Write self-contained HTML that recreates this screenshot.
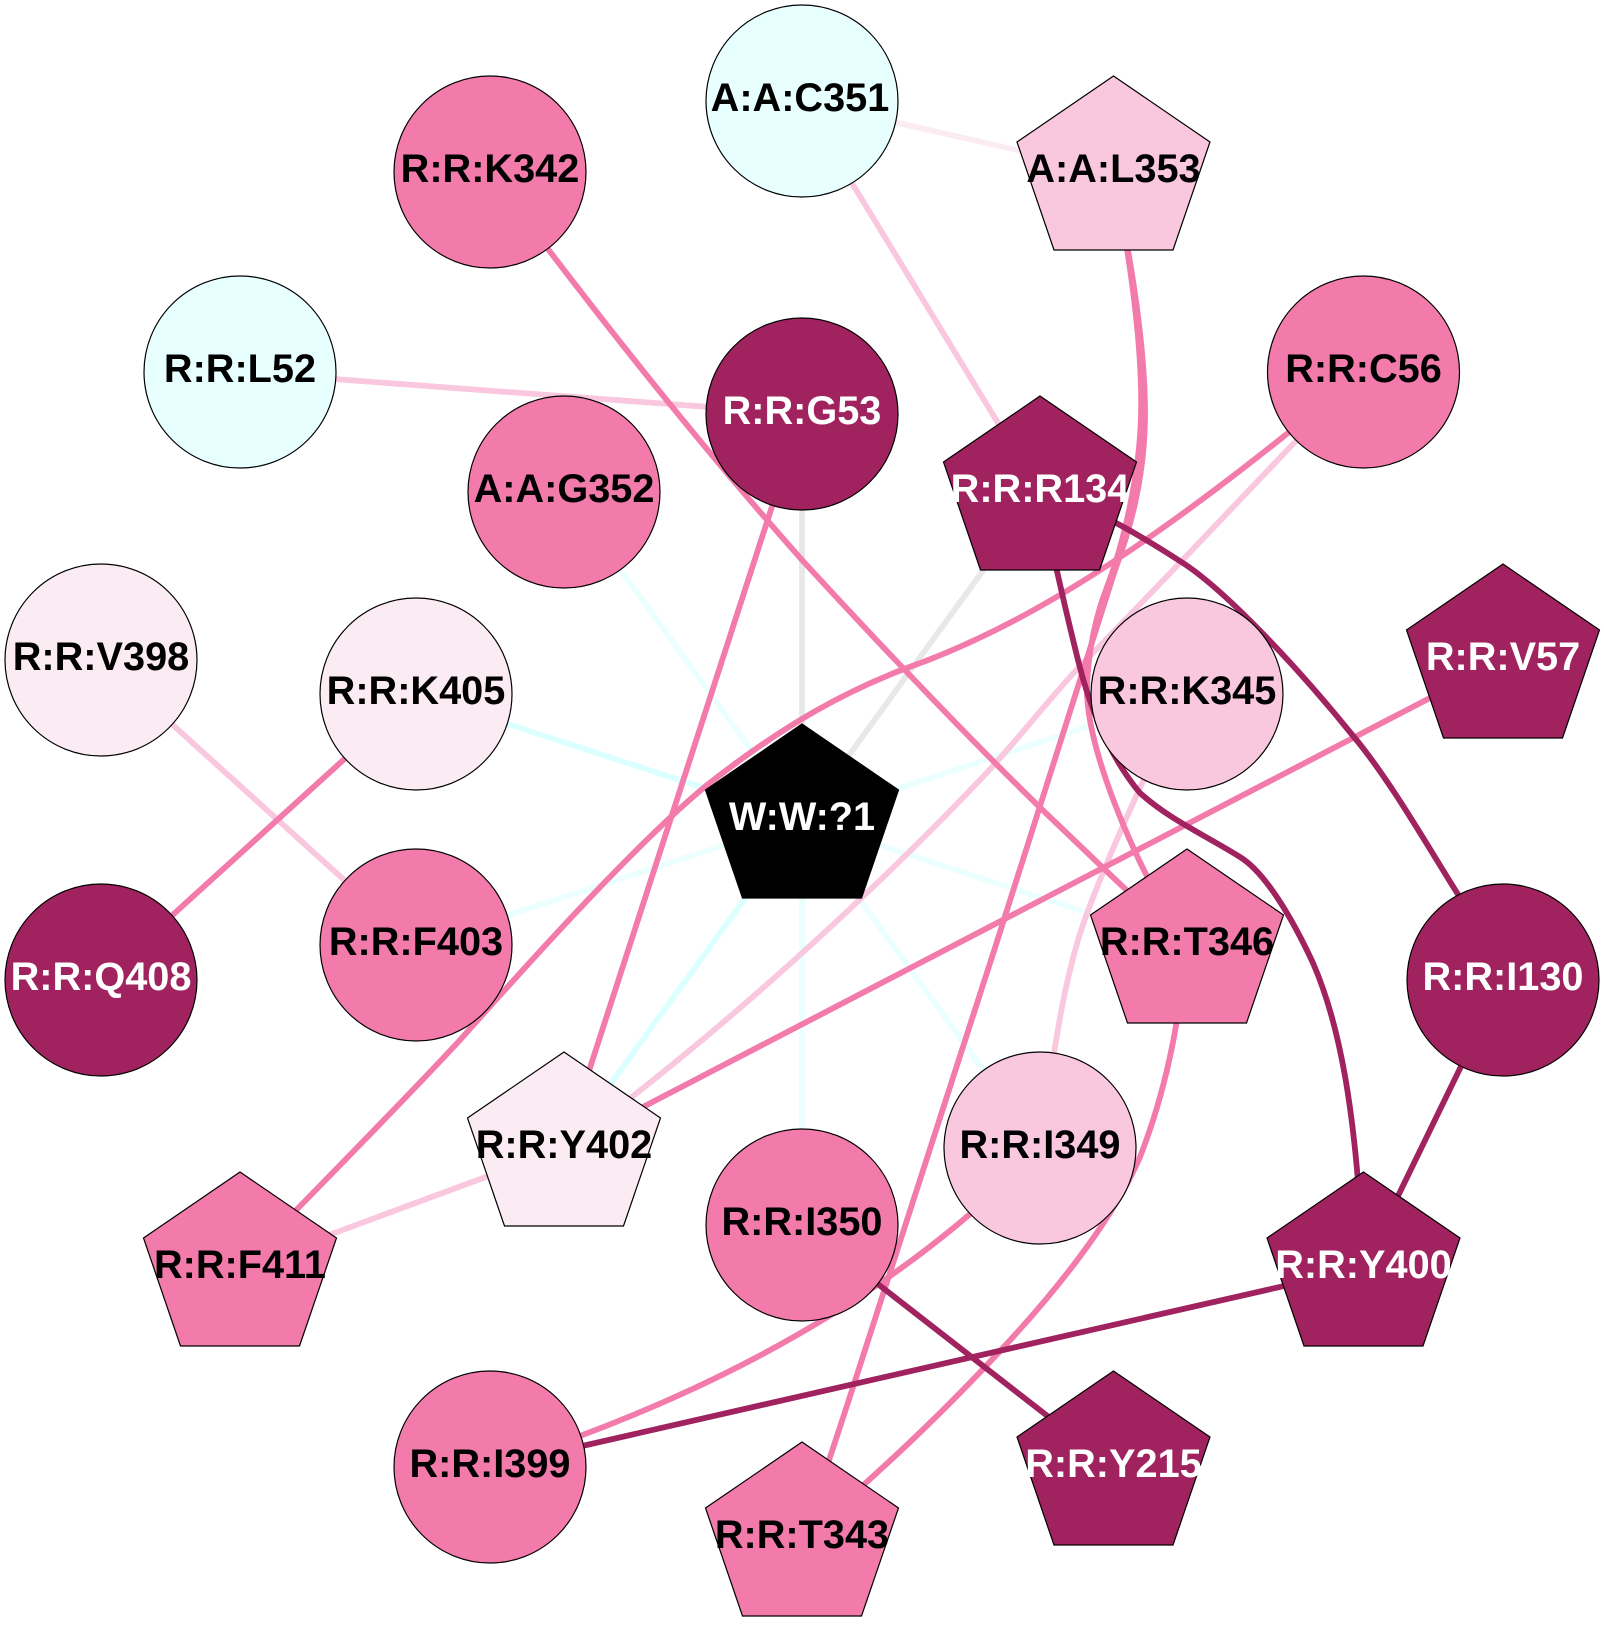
<!DOCTYPE html>
<html><head><meta charset="utf-8"><style>
html,body{margin:0;padding:0;background:#fff}
svg{display:block}
text{font-family:"Liberation Sans",Arial,sans-serif;font-weight:bold;font-size:39.7px;text-anchor:middle}
.n{stroke:#000;stroke-width:1.2}
.w{fill:#fff}.b{fill:#000}
path.e,line{fill:none;stroke-width:5.8}
.p{stroke:#f27bab}.l{stroke:#f9c7de}.v{stroke:#fbebf3}.d{stroke:#a0235f}
.c{stroke:#dcffff}.c2{stroke:#ebffff}.g{stroke:#e8e8e8}
.dk{fill:#a0235f}.pk{fill:#f27bab}.lt{fill:#f9c7de}.pl{fill:#fbebf3}.cy{fill:#e8ffff}
</style></head><body>
<svg width="1604" height="1640" viewBox="0 0 1604 1640" xmlns="http://www.w3.org/2000/svg">
<rect width="1604" height="1640" fill="#fff"/>
<!-- W edges -->
<line class="c2" x1="564" y1="492" x2="802" y2="820"/>
<line class="c" x1="416" y1="694" x2="802" y2="820"/>
<line class="g" x1="802" y1="414" x2="802" y2="820"/>
<line class="g" x1="1040" y1="492" x2="802" y2="820"/>
<line class="c2" x1="1187" y1="694" x2="802" y2="820"/>
<line class="c2" x1="416" y1="945" x2="802" y2="820"/>
<line class="c2" x1="1187" y1="945" x2="802" y2="820"/>
<line class="c" x1="564" y1="1148" x2="802" y2="820"/>
<line class="c2" x1="802" y1="820" x2="802" y2="1225"/>
<line class="c2" x1="1040" y1="1148" x2="802" y2="820"/>
<!-- other edges -->
<line class="l" x1="240" y1="372" x2="802" y2="414"/>
<line class="v" x1="802" y1="101" x2="1113" y2="172"/>
<line class="l" x1="802" y1="101" x2="1040" y2="492"/>
<line class="l" x1="101" y1="660" x2="416" y2="945"/>
<line class="l" x1="240" y1="1268" x2="564" y2="1148"/>
<path class="e l" d="M1363 372C1290 445 1180 565 1083 663C1050 697 1020 738 980 780C875 890 720 1035 564 1148"/>
<path class="e l" d="M1187 694C1150 760 1095 885 1078 940C1065 985 1058 1020 1040 1148"/>
<line class="p" x1="416" y1="694" x2="101" y2="980"/>
<line class="p" x1="1503" y1="660" x2="564" y2="1148"/>
<line class="p" x1="802" y1="414" x2="564" y2="1148"/>
<path class="e p" d="M490 172C600 320 700 445 802 560C880 645 980 750 1053 820C1090 855 1130 895 1187 945"/>
<path class="e p" d="M1113 172C1127 240 1146 340 1145 420C1144 480 1130 530 1115 570C1060 745 950 1090 886 1285C868 1340 830 1461 802 1539"/>
<path class="e p" d="M1113 172C1127 240 1143 340 1141 415C1140 470 1125 540 1107 587C1098 610 1087 650 1087 693C1088 730 1105 785 1133 847C1150 885 1165 910 1187 945"/>
<path class="e p" d="M1363 372C1190 515 1050 618 904 669C850 690 790 720 707 785C640 840 540 950 460 1040C400 1105 320 1185 240 1268"/>
<path class="e p" d="M1187 945C1180 1010 1170 1080 1140 1157C1115 1215 1065 1280 1013 1337C960 1395 900 1455 802 1539"/>
<path class="e p" d="M490 1467C670 1410 880 1315 1040 1148"/>
<path class="e d" d="M1040 492C1048 530 1058 580 1078 660C1088 702 1108 755 1140 793C1170 820 1205 835 1240 857C1266 873 1293 920 1313 963C1340 1025 1355 1110 1362 1240"/>
<path class="e d" d="M1040 492C1090 505 1140 535 1186 565C1230 595 1300 670 1354 737C1390 780 1430 850 1459 896L1503 980"/>
<line class="d" x1="1503" y1="980" x2="1363" y2="1268"/>
<line class="d" x1="490" y1="1467" x2="1363" y2="1268"/>
<line class="d" x1="802" y1="1225" x2="1113" y2="1467"/>
<!-- nodes -->
<defs><polygon id="pg" points="0,-96 96.5,-30 59.5,78 -59.5,78 -96.5,-30"/></defs>
<circle class="n cy" cx="802" cy="101" r="96"/><text class="b" x="800" y="111">A:A:C351</text>
<use href="#pg" x="1113.5" y="172" class="n lt"/><text class="b" x="1113.5" y="182">A:A:L353</text>
<circle class="n pk" cx="490" cy="172" r="96"/><text class="b" x="490" y="182">R:R:K342</text>
<circle class="n cy" cx="240" cy="372" r="96"/><text class="b" x="240" y="382">R:R:L52</text>
<circle class="n dk" cx="802" cy="414" r="96"/><text class="w" x="802" y="424">R:R:G53</text>
<circle class="n pk" cx="1363.5" cy="372" r="96"/><text class="b" x="1363.5" y="382">R:R:C56</text>
<circle class="n pk" cx="564" cy="492" r="96"/><text class="b" x="564" y="502">A:A:G352</text>
<use href="#pg" x="1040" y="492" class="n dk"/><text class="w" x="1040" y="502">R:R:R134</text>
<circle class="n pl" cx="101" cy="660" r="96"/><text class="b" x="101" y="670">R:R:V398</text>
<circle class="n pl" cx="416" cy="694" r="96"/><text class="b" x="416" y="704">R:R:K405</text>
<circle class="n lt" cx="1187" cy="694" r="96"/><text class="b" x="1187" y="704">R:R:K345</text>
<use href="#pg" x="1503" y="660" class="n dk"/><text class="w" x="1503" y="670">R:R:V57</text>
<use href="#pg" x="802" y="820" class="n" fill="#000"/><text class="w" x="802" y="830">W:W:?1</text>
<circle class="n pk" cx="416" cy="945" r="96"/><text class="b" x="416" y="955">R:R:F403</text>
<use href="#pg" x="1187" y="945" class="n pk"/><text class="b" x="1187" y="955">R:R:T346</text>
<circle class="n dk" cx="101" cy="980" r="96"/><text class="w" x="101" y="990">R:R:Q408</text>
<circle class="n dk" cx="1503" cy="980" r="96"/><text class="w" x="1503" y="990">R:R:I130</text>
<use href="#pg" x="564" y="1148" class="n pl"/><text class="b" x="564" y="1158">R:R:Y402</text>
<circle class="n lt" cx="1040" cy="1148" r="96"/><text class="b" x="1040" y="1158">R:R:I349</text>
<circle class="n pk" cx="802" cy="1225" r="96"/><text class="b" x="802" y="1235">R:R:I350</text>
<use href="#pg" x="240" y="1268" class="n pk"/><text class="b" x="240" y="1278">R:R:F411</text>
<use href="#pg" x="1363.5" y="1268" class="n dk"/><text class="w" x="1363.5" y="1278">R:R:Y400</text>
<circle class="n pk" cx="490" cy="1467" r="96"/><text class="b" x="490" y="1477">R:R:I399</text>
<use href="#pg" x="1113.5" y="1467" class="n dk"/><text class="w" x="1113.5" y="1477">R:R:Y215</text>
<use href="#pg" x="802" y="1538" class="n pk"/><text class="b" x="802" y="1548">R:R:T343</text>
</svg>
</body></html>
